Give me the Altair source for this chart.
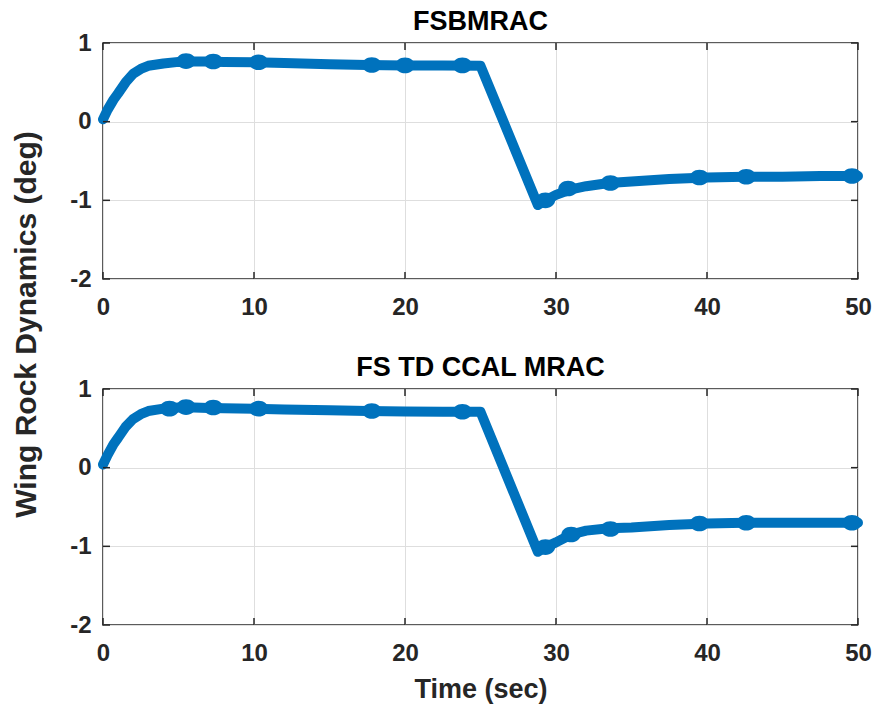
import altair as alt
import pandas as pd

FONT = "Liberation Sans"
LINE = "#0072BD"
AX = "#262626"

# ---- data ----
top_t = [0, 0.3, 0.7, 1.0, 1.5, 2.0, 2.5, 3.0, 4.0, 5.0, 6.0, 7.0, 8.0, 10.0, 12.0, 15.0,
         17.5, 20.0, 22.5, 25.0, 28.8, 29.3, 30.0, 31.0, 32.0, 33.5, 35.0, 37.5, 40.0,
         42.5, 45.0, 47.5, 50.0]
top_v = [0.03, 0.15, 0.28, 0.36, 0.50, 0.61, 0.67, 0.71, 0.74, 0.76, 0.765, 0.765, 0.76,
         0.755, 0.745, 0.73, 0.72, 0.715, 0.715, 0.71, -1.06, -1.00, -0.93, -0.86, -0.82,
         -0.78, -0.76, -0.73, -0.71, -0.70, -0.70, -0.69, -0.69]

bot_t = [0, 0.3, 0.7, 1.0, 1.5, 2.0, 2.5, 3.0, 4.0, 5.0, 6.0, 7.0, 8.0, 10.0, 12.0, 15.0,
         17.5, 20.0, 22.5, 25.0, 28.8, 29.3, 30.0, 31.0, 32.0, 33.5, 35.0, 37.5, 40.0,
         42.5, 45.0, 47.5, 50.0]
bot_v = [0.04, 0.16, 0.30, 0.38, 0.52, 0.62, 0.68, 0.72, 0.75, 0.765, 0.765, 0.76, 0.755,
         0.75, 0.74, 0.73, 0.72, 0.715, 0.71, 0.71, -1.07, -1.01, -0.95, -0.85, -0.80,
         -0.77, -0.76, -0.73, -0.71, -0.70, -0.70, -0.70, -0.70]

# thicker marker blobs along the curves
top_blob_t = [5.5, 7.3, 10.3, 17.8, 20.0, 23.8, 29.3, 30.8, 33.6, 39.5, 42.6, 49.6]
top_blob_v = [0.77, 0.765, 0.755, 0.72, 0.715, 0.715, -1.00, -0.85, -0.78, -0.71, -0.70, -0.69]
bot_blob_t = [4.4, 5.5, 7.3, 10.3, 17.8, 23.8, 29.3, 31.0, 33.6, 39.5, 42.6, 49.6]
bot_blob_v = [0.75, 0.77, 0.765, 0.75, 0.72, 0.71, -1.01, -0.85, -0.78, -0.71, -0.70, -0.70]

x_ticks = [0, 10, 20, 30, 40, 50]
y_ticks = [-2, -1, 0, 1]

titles = ["FSBMRAC", "FS TD CCAL MRAC"]
y_title = "Wing Rock Dynamics (deg)"
x_title = "Time (sec)"

W, H = 755, 236
TICK = 7
ELLIPSE = "M-1,0 A1,0.8 0 1,0 1,0 A1,0.8 0 1,0 -1,0 Z"
YLAB = "datum.value < 0 ? '-' + format(-datum.value, 'd') : format(datum.value, 'd')"


def panel(t, v, bt, bv, title, show_ytitle, show_xtitle):
    df = pd.DataFrame({"t": t, "v": v})
    bdf = pd.DataFrame({"t": bt, "v": bv})
    xdf = pd.DataFrame({"x": x_ticks})
    ydf = pd.DataFrame({"y": y_ticks})

    xscale = alt.Scale(domain=[0, 50], nice=False, zero=False)
    yscale = alt.Scale(domain=[-2, 1], nice=False, zero=False)

    xaxis = alt.Axis(values=x_ticks, grid=True, ticks=False, domain=False,
                     labelFlush=False,
                     labelFont=FONT, labelFontSize=24, labelFontWeight="bold",
                     labelColor=AX, labelPadding=16, gridColor="#dedede",
                     title=x_title if show_xtitle else None,
                     titleFont=FONT, titleFontSize=27, titleFontWeight="bold",
                     titleColor=AX, titlePadding=11)
    yaxis_kw = dict(values=y_ticks, grid=True, ticks=False, domain=False,
                    labelFlush=False, labelExpr=YLAB,
                    labelFont=FONT, labelFontSize=24, labelFontWeight="bold",
                    labelColor=AX, labelPadding=12, gridColor="#dedede",
                    titleFont=FONT, titleFontSize=30, titleFontWeight="bold",
                    titleColor=AX, titlePadding=28)
    if show_ytitle:
        yaxis = alt.Axis(title=y_title, titleY=281, **yaxis_kw)
    else:
        yaxis = alt.Axis(title=None, **yaxis_kw)

    line = alt.Chart(df).mark_line(color=LINE, strokeWidth=10, strokeJoin="round",
                                   strokeCap="round").encode(
        x=alt.X("t:Q", scale=xscale, axis=xaxis),
        y=alt.Y("v:Q", scale=yscale, axis=yaxis),
    )
    blobs = alt.Chart(bdf).mark_point(filled=True, color=LINE, opacity=1,
                                      size=380, shape=ELLIPSE).encode(
        x=alt.X("t:Q", scale=xscale),
        y=alt.Y("v:Q", scale=yscale),
    )
    xt_bot = alt.Chart(xdf).mark_rule(color=AX, strokeWidth=1.5).encode(
        x=alt.X("x:Q", scale=xscale), y=alt.value(H), y2=alt.value(H - TICK))
    xt_top = alt.Chart(xdf).mark_rule(color=AX, strokeWidth=1.5).encode(
        x=alt.X("x:Q", scale=xscale), y=alt.value(0), y2=alt.value(TICK))
    yt_l = alt.Chart(ydf).mark_rule(color=AX, strokeWidth=1.5).encode(
        y=alt.Y("y:Q", scale=yscale), x=alt.value(0), x2=alt.value(TICK))
    yt_r = alt.Chart(ydf).mark_rule(color=AX, strokeWidth=1.5).encode(
        y=alt.Y("y:Q", scale=yscale), x=alt.value(W), x2=alt.value(W - TICK))

    return alt.layer(line, blobs, xt_bot, xt_top, yt_l, yt_r).properties(
        width=W, height=H,
        title=alt.TitleParams(title, font=FONT, fontSize=27, fontWeight="bold",
                              color="#000000", offset=-5),
    )


top = panel(top_t, top_v, top_blob_t, top_blob_v, titles[0], True, False)
bot = panel(bot_t, bot_v, bot_blob_t, bot_blob_v, titles[1], False, True)

chart = alt.vconcat(top, bot, spacing=110, bounds="flush").properties(
    padding={"left": 10, "top": 7, "right": 3, "bottom": 1},
    background="white",
).configure_view(stroke=AX, strokeWidth=1.5)

chart.save("out.html", embed_options={"renderer": "svg", "actions": False})
